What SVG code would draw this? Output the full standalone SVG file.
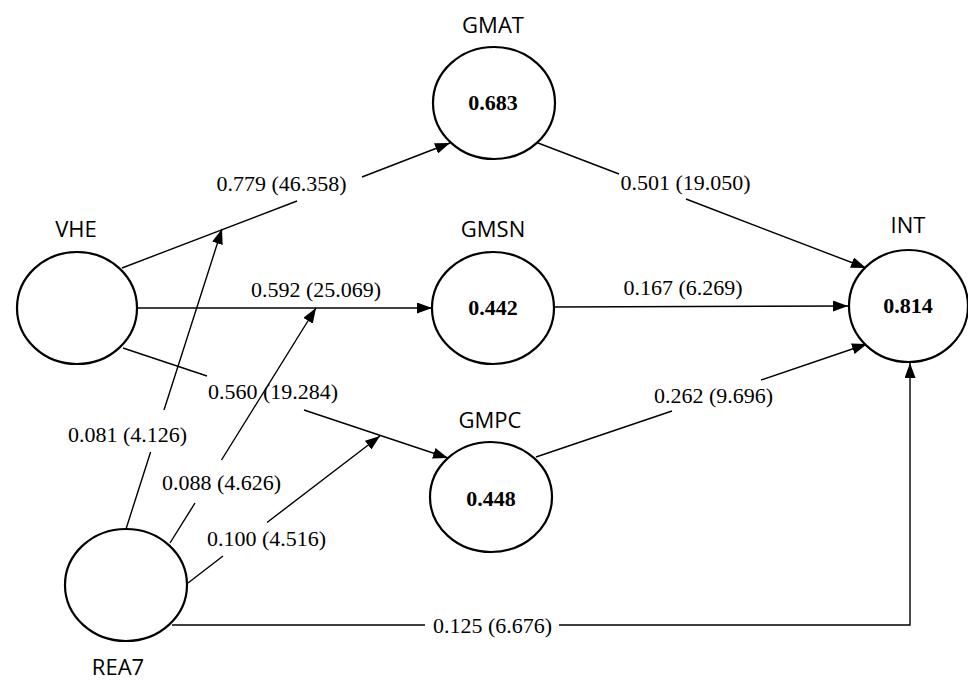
<svg xmlns="http://www.w3.org/2000/svg" width="968" height="680" viewBox="0 0 968 680">
<defs>
<marker id="arr" markerUnits="userSpaceOnUse" markerWidth="15" markerHeight="11" refX="15" refY="5.5" orient="auto">
<path d="M0,0 L15,5.5 L0,11 z" fill="#000"/>
</marker>
<style>
.node{fill:#fff;stroke:#000;stroke-width:2.2}
.nl{font-family:"Open Sans","Liberation Sans",sans-serif;font-size:22px;fill:#000;text-anchor:middle}
.val{font-family:"Liberation Serif","Times New Roman",serif;font-size:22px;font-weight:bold;fill:#000;text-anchor:middle}
.c{fill:none;stroke:#000;stroke-width:1.4;marker-end:url(#arr)}
.el{font-family:"Liberation Serif","Times New Roman",serif;font-size:22px;fill:#000;text-anchor:middle}
</style>
</defs>
<rect width="968" height="680" fill="#fff"/>
<g id="connectors">
<path class="c" d="M122,268 L297,201 M362,177 L450,143"/>
<path class="c" d="M137,308 L432,308"/>
<path class="c" d="M123,348 L207,376 M304,410 L448,458"/>
<path class="c" d="M538,143 L619,174 M686,199 L866,268"/>
<path class="c" d="M554,307 L848,306"/>
<path class="c" d="M536,457 L672,411 M761,380 L867,344"/>
<path class="c" d="M172,625 L425,625 M559,625 L910,625 L910,363"/>
<path class="c" d="M126,529 L150.6,452 M164,410 L222,229"/>
<path class="c" d="M170,543 L195,503 M221.5,460 L316,308"/>
<path class="c" d="M188,583 L223,556 M267,522.5 L380,436"/>
<text class="el" x="281.5" y="191">0.779 (46.358)</text>
<text class="el" x="316" y="297">0.592 (25.069)</text>
<text class="el" x="273" y="399">0.560 (19.284)</text>
<text class="el" x="127.5" y="442">0.081 (4.126)</text>
<text class="el" x="221.5" y="490">0.088 (4.626)</text>
<text class="el" x="266.5" y="546">0.100 (4.516)</text>
<text class="el" x="685.5" y="190">0.501 (19.050)</text>
<text class="el" x="683" y="295">0.167 (6.269)</text>
<text class="el" x="713.5" y="403">0.262 (9.696)</text>
<text class="el" x="492.5" y="633">0.125 (6.676)</text>
</g>
<g id="VHE">
<ellipse class="node" cx="77" cy="308" rx="60" ry="56"/>
<text class="nl" x="76" y="237">VHE</text>
</g>
<g id="GMAT">
<ellipse class="node" cx="494" cy="103" rx="61" ry="56"/>
<text class="nl" x="493" y="33">GMAT</text>
<text class="val" x="493" y="110">0.683</text>
</g>
<g id="GMSN">
<ellipse class="node" cx="493" cy="308" rx="61" ry="56"/>
<text class="nl" x="493" y="237">GMSN</text>
<text class="val" x="493" y="315">0.442</text>
</g>
<g id="GMPC">
<ellipse class="node" cx="491" cy="497" rx="61" ry="55"/>
<text class="nl" x="490" y="428">GMPC</text>
<text class="val" x="491" y="506">0.448</text>
</g>
<g id="INT">
<ellipse class="node" cx="908.5" cy="306" rx="59.5" ry="56"/>
<text class="nl" x="908" y="233">INT</text>
<text class="val" x="908" y="313">0.814</text>
</g>
<g id="REA7">
<ellipse class="node" cx="126" cy="585" rx="61" ry="56"/>
<text class="nl" x="118" y="675">REA7</text>
</g>
</svg>
